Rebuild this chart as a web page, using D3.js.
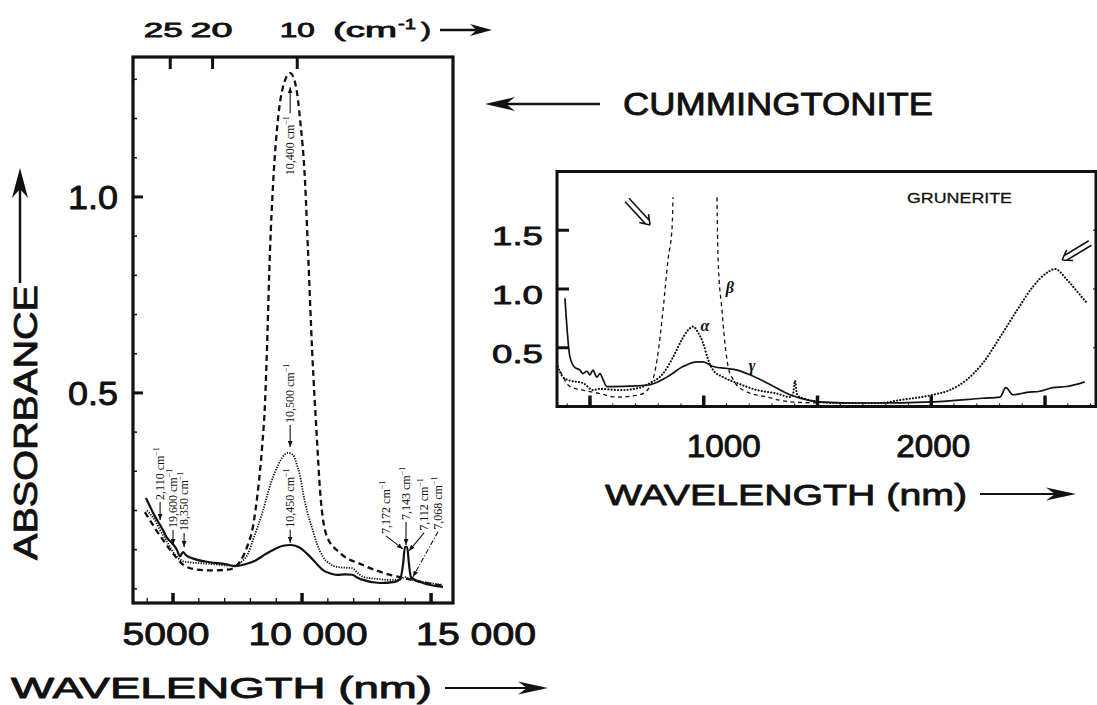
<!DOCTYPE html>
<html>
<head>
<meta charset="utf-8">
<script src="https://cdn.jsdelivr.net/npm/d3@7/dist/d3.min.js"></script>
<style>
  html, body { margin: 0; padding: 0; background: #fff; }
  svg { display: block; }
</style>
</head>
<body>
<svg id="chart" width="1097" height="705"></svg>
<script>
// ---------- data ----------
// Cummingtonite, three polarised spectra: [wavelength, absorbance]
const cumDashed = [[3910,0.196],[4300,0.155],[4610,0.125],[5000,0.09],[5390,0.062],[5850,0.05],[6430,0.047],[7210,0.05],[7600,0.07],[7870,0.107],[8100,0.16],[8290,0.25],[8450,0.36],[8570,0.48],[8640,0.61],[8760,0.865],[8880,1.035],[9070,1.2],[9260,1.28],[9540,1.316],[9770,1.28],[9920,1.2],[10120,1.035],[10230,0.865],[10390,0.61],[10580,0.38],[10700,0.25],[10970,0.133],[11470,0.092],[12360,0.061],[13410,0.036],[13800,0.03],[14570,0.018],[15470,0.008]];
const cumDotted = [[3990,0.2],[4300,0.175],[4500,0.15],[4770,0.12],[5080,0.087],[5270,0.075],[5470,0.069],[6430,0.064],[7330,0.059],[7670,0.07],[7910,0.09],[8100,0.125],[8290,0.16],[8490,0.2],[8680,0.245],[8880,0.286],[9070,0.315],[9220,0.334],[9460,0.347],[9650,0.342],[9810,0.315],[9920,0.29],[10040,0.245],[10190,0.2],[10390,0.155],[10580,0.115],[10810,0.082],[11080,0.064],[11360,0.056],[11670,0.054],[11940,0.053],[12170,0.04],[12360,0.031],[12830,0.026],[13410,0.023],[13800,0.024],[13990,0.03],[14180,0.025],[14690,0.018],[15460,0.01]];
const cumSolid = [[3950,0.232],[4110,0.21],[4300,0.185],[4500,0.163],[4610,0.15],[4770,0.13],[4960,0.117],[5150,0.1],[5270,0.083],[5390,0.094],[5500,0.086],[5850,0.076],[6430,0.068],[7020,0.063],[7400,0.058],[7790,0.063],[8180,0.072],[8570,0.088],[8950,0.102],[9260,0.11],[9570,0.112],[9920,0.105],[10190,0.09],[10430,0.074],[10620,0.06],[10810,0.048],[11080,0.04],[11360,0.036],[11670,0.037],[11940,0.036],[12170,0.028],[12360,0.023],[13020,0.015],[13600,0.018],[13800,0.025],[13910,0.06],[13990,0.107],[14070,0.107],[14150,0.06],[14220,0.03],[14690,0.015],[15460,0.005]];

// Grunerite inset: [wavelength (nm), absorbance]; null = β runs off scale
const gruBeta = [[369,0.3],[412,0.17],[469,0.14],[544,0.11],[618,0.08],[719,0.1],[764,0.17],[795,0.4],[821,0.82],[843,1.25],[861,1.53],[865,1.78],[960,null],[1058,1.78],[1063,1.25],[1080,0.82],[1093,0.54],[1107,0.34],[1129,0.23],[1173,0.14],[1278,0.08],[1379,0.04],[1511,0.03]];
const gruAlpha = [[359,0.34],[381,0.25],[412,0.22],[469,0.2],[513,0.14],[544,0.15],[632,0.14],[720,0.16],[764,0.2],[821,0.28],[865,0.42],[904,0.57],[931,0.65],[953,0.68],[975,0.63],[997,0.54],[1019,0.4],[1041,0.31],[1085,0.25],[1146,0.2],[1234,0.14],[1322,0.11],[1379,0.08],[1392,0.1],[1401,0.22],[1410,0.1],[1436,0.07],[1568,0.03],[1775,0.03],[1863,0.055],[2008,0.1],[2082,0.14],[2157,0.23],[2227,0.37],[2302,0.59],[2377,0.82],[2447,1.02],[2509,1.14],[2544,1.17],[2596,1.08],[2645,0.97],[2680,0.89]];
const gruGamma = [[390,0.92],[412,0.42],[434,0.33],[456,0.31],[469,0.28],[486,0.3],[500,0.27],[513,0.31],[530,0.25],[544,0.28],[557,0.23],[574,0.17],[600,0.17],[700,0.175],[764,0.185],[838,0.25],[909,0.34],[971,0.38],[997,0.38],[1041,0.34],[1115,0.32],[1146,0.31],[1203,0.27],[1278,0.2],[1379,0.1],[1467,0.05],[1498,0.04],[1718,0.03],[2008,0.04],[2227,0.07],[2302,0.08],[2328,0.16],[2359,0.1],[2420,0.12],[2477,0.13],[2534,0.16],[2596,0.17],[2675,0.21]];

// axis ticks and labels
const cumWaveTicks = [5000, 10000, 15000];
const cumWaveTickLabels = ["5000", "10 000", "15 000"];
const cumWaveMinor = d3.range(4000, 15001, 1000);
const cumAbsTicks = [0.5, 1.0];
const cumAbsTickLabels = ["0.5", "1.0"];
const cumAbsMinor = d3.range(0, 1.31, 0.1);
const wavenumberTicks = [25, 20, 10];
const wavenumberLabels = ["25", "20", "10"];
const gruWaveTicks = [500, 1000, 1500, 2000, 2500];
const gruWaveLabelValues = [1000, 2000];
const gruWaveLabels = ["1000", "2000"];
const gruWaveMinor = d3.range(400, 2701, 100);
const gruAbsTicks = [0.5, 1.0, 1.5];
const gruAbsTickLabels = ["0.5", "1.0", "1.5"];

// band assignments (cm-1) with the point each arrow marks
const cumNotes = [
  {label: "10,400", wl: 9540,  abs: 1.28,  dx: 0,   dy: 26, up: true},
  {label: "10,500", wl: 9540,  abs: 0.362, dx: 0,   dy: -22},
  {label: "10,450", wl: 9540,  abs: 0.118, dx: 0,   dy: -13},
  {label: "2,110",  wl: 4500,  abs: 0.176, dx: 0,   dy: -18},
  {label: "19,600", wl: 5000,  abs: 0.112, dx: 0,   dy: -15},
  {label: "18,350", wl: 5430,  abs: 0.107, dx: 0,   dy: -14},
  {label: "7,172",  wl: 13910, abs: 0.102, dx: -17, dy: -13},
  {label: "7,143",  wl: 14030, abs: 0.112, dx: 0,   dy: -23},
  {label: "7,112",  wl: 14145, abs: 0.097, dx: 15,  dy: -18},
  {label: "7,068",  wl: 14300, abs: 0.031, dx: 25,  dy: -45, dashDot: true}
];
const gruGreek = [
  {label: "\u03b1", wl: 1005, abs: 0.69},
  {label: "\u03b2", wl: 1115, abs: 1.01},
  {label: "\u03b3", wl: 1212, abs: 0.35}
];

// ---------- drawing ----------
const svg = d3.select("#chart");
const sans = "'Liberation Sans', Arial, Helvetica, sans-serif";
const serif = "'Liberation Serif', 'Times New Roman', serif";
const ink = "#111";

const defs = svg.append("defs");
defs.append("marker").attr("id", "tip")
  .attr("viewBox", "0 0 10 8").attr("refX", 10).attr("refY", 4)
  .attr("markerWidth", 6).attr("markerHeight", 5).attr("markerUnits", "userSpaceOnUse")
  .attr("orient", "auto")
  .append("path").attr("d", "M0,0L10,4L0,8Z").attr("fill", ink);

// text helper: widths are fixed with textLength, heavier strokes with an outline
function txt(g, s, x, y, o) {
  const t = g.append("text")
    .attr("transform", `translate(${x},${y})` + (o.rot ? ` rotate(${o.rot})` : ""))
    .attr("font-family", o.family || sans)
    .attr("font-size", o.size)
    .attr("font-weight", o.weight || "normal")
    .attr("font-style", o.style || "normal")
    .attr("text-anchor", o.anchor || "start")
    .attr("fill", ink)
    .text(s);
  if (o.len) t.attr("textLength", o.len).attr("lengthAdjust", "spacingAndGlyphs");
  if (o.baseline) t.attr("dominant-baseline", o.baseline);
  if (o.heavy) t.attr("stroke", ink).attr("stroke-width", o.heavy).attr("stroke-linejoin", "round");
  return t;
}

// filled, swept-back arrow from (xa,ya) to tip (xb,yb)
function bigArrow(g, xa, ya, xb, yb, head, half, w) {
  const a = Math.atan2(yb - ya, xb - xa), c = Math.cos(a), s = Math.sin(a);
  const bx = xb - head * c, by = yb - head * s;
  g.append("line").attr("x1", xa).attr("y1", ya).attr("x2", bx + head * 0.3 * c).attr("y2", by + head * 0.3 * s)
    .attr("stroke", ink).attr("stroke-width", w);
  const px = -s * half, py = c * half;
  g.append("path")
    .attr("d", `M${xb},${yb}L${bx + px},${by + py}L${bx + head * 0.3 * c},${by + head * 0.3 * s}L${bx - px},${by - py}Z`)
    .attr("fill", ink);
}

// open double-shafted arrow pointing to (xb,yb)
function doubleArrow(g, xa, ya, xb, yb) {
  const a = Math.atan2(yb - ya, xb - xa), c = Math.cos(a), s = Math.sin(a);
  const px = -s * 2.6, py = c * 2.6;
  const path = d3.path();
  [1, -1].forEach(k => {
    path.moveTo(xa + k * px, ya + k * py);
    path.lineTo(xb - 4 * c + k * px, yb - 4 * s + k * py);
  });
  [0.6, -0.6].forEach(t => {
    path.moveTo(xb, yb);
    path.lineTo(xb - 11 * Math.cos(a + t), yb - 11 * Math.sin(a + t));
  });
  g.append("path").attr("d", path.toString()).attr("fill", "none").attr("stroke", ink).attr("stroke-width", 1.6);
}

// ===== Cummingtonite panel =====
const L = {x0: 133, x1: 453, y0: 57, y1: 603};
const x1 = d3.scaleLinear().domain([3450, 15850]).range([L.x0, L.x1]);
const y1 = d3.scaleLinear().domain([-0.036, 1.357]).range([L.y1, L.y0]);
const kx = d3.scaleLinear().domain([29.4, -8.4]).range([L.x0, L.x1]);

const gL = svg.append("g");
defs.append("clipPath").attr("id", "clipL").append("rect")
  .attr("x", L.x0).attr("y", L.y0).attr("width", L.x1 - L.x0).attr("height", L.y1 - L.y0);

const lineL = d3.line().x(d => x1(d[0])).y(d => y1(d[1])).curve(d3.curveMonotoneX);
const curvesL = gL.append("g").attr("clip-path", "url(#clipL)").attr("fill", "none").attr("stroke", ink)
  .attr("stroke-linejoin", "round");
curvesL.append("path").datum(cumDashed).attr("d", lineL).attr("stroke-width", 2.3).attr("stroke-dasharray", "6,4");
curvesL.append("path").datum(cumDotted).attr("d", lineL).attr("stroke-width", 1.8).attr("stroke-dasharray", "1.3,1.3");
curvesL.append("path").datum(cumSolid).attr("d", lineL).attr("stroke-width", 2.2);

// frame
gL.append("rect").attr("x", L.x0).attr("y", L.y0).attr("width", L.x1 - L.x0).attr("height", L.y1 - L.y0)
  .attr("fill", "none").attr("stroke", ink).attr("stroke-width", 3.2);

// left ticks (inward)
cumAbsMinor.forEach(v => {
  const major = cumAbsTicks.some(t => Math.abs(t - v) < 1e-6);
  gL.append("line").attr("x1", L.x0).attr("x2", L.x0 + (major ? 10 : 4))
    .attr("y1", y1(v)).attr("y2", y1(v)).attr("stroke", ink).attr("stroke-width", major ? 3 : 1.5);
});
cumAbsTicks.forEach((v, i) => {
  txt(gL, cumAbsTickLabels[i], 118, y1(v) + 12.5, {size: 34, anchor: "end", len: 50, heavy: 0.9});
});

// bottom ticks
cumWaveMinor.forEach(v => {
  const major = cumWaveTicks.includes(v);
  gL.append("line").attr("x1", x1(v)).attr("x2", x1(v))
    .attr("y1", L.y1).attr("y2", L.y1 - (major ? 10 : 5))
    .attr("stroke", ink).attr("stroke-width", major ? 3.5 : 1.3);
});
const bottomShift = [-7, 6, 45];
const bottomLen = [87, 119, 120];
cumWaveTicks.forEach((v, i) => {
  txt(gL, cumWaveTickLabels[i], x1(v) + bottomShift[i], 645, {size: 32, anchor: "middle", len: bottomLen[i], heavy: 0.9});
});

// top wavenumber ticks
wavenumberTicks.forEach(k => {
  gL.append("line").attr("x1", kx(k)).attr("x2", kx(k)).attr("y1", L.y0).attr("y2", L.y0 + 12)
    .attr("stroke", ink).attr("stroke-width", 3);
});
const topShift = [-7, -1, 0];
const topLen = [39, 42, 35];
wavenumberTicks.forEach((k, i) => {
  txt(gL, wavenumberLabels[i], kx(k) + topShift[i], 37, {size: 20, anchor: "middle", len: topLen[i], heavy: 0.8});
});
txt(gL, "(cm", 333, 37, {size: 20, len: 64, heavy: 0.8});
txt(gL, "-1", 398, 29, {size: 15, len: 18, heavy: 0.8});
txt(gL, ")", 421, 37, {size: 20, len: 10, heavy: 0.8});
bigArrow(gL, 440, 30, 492, 30, 22, 6, 2.5);

// axis titles
txt(gL, "WAVELENGTH (nm)", 11, 698, {size: 30, len: 421, heavy: 0.9});
bigArrow(gL, 445, 688, 548, 688, 30, 6.5, 2.2);
txt(gL, "ABSORBANCE", 37, 560, {size: 33, rot: -90, len: 275, heavy: 0.9});
bigArrow(gL, 20, 283, 20, 168, 30, 8, 2.5);

// band assignments
cumNotes.forEach(n => {
  const tx = x1(n.wl), ty = y1(n.abs);
  const bx = tx + n.dx, by = ty + n.dy;
  const ln = gL.append("line").attr("x1", bx).attr("y1", by).attr("x2", tx).attr("y2", ty)
    .attr("stroke", ink).attr("stroke-width", 1.1).attr("marker-end", "url(#tip)");
  if (n.dashDot) ln.attr("stroke-dasharray", "5,2,1,2");
  const t = gL.append("text")
    .attr("font-family", serif).attr("font-size", 12).attr("fill", ink)
    .attr("transform", n.up ? `translate(${bx + 4},${by + 3}) rotate(-90)` : `translate(${bx + 4},${by - 2}) rotate(-90)`)
    .attr("text-anchor", n.up ? "end" : "start");
  t.append("tspan").text(n.label + " cm");
  t.append("tspan").attr("font-size", 8).attr("dy", -5).text("\u22121");
});

// ===== Grunerite inset =====
const R = {x0: 557, x1: 1096, y0: 171.5, y1: 406.5};
const x2 = d3.scaleLinear().domain([355, 2724]).range([R.x0, R.x1]);
const y2 = d3.scaleLinear().domain([0, 2]).range([R.y1, R.y0]);

const gR = svg.append("g");
defs.append("clipPath").attr("id", "clipR").append("rect")
  .attr("x", R.x0).attr("y", R.y0).attr("width", R.x1 - R.x0).attr("height", R.y1 - R.y0);
const lineR = d3.line().defined(d => d[1] != null).x(d => x2(d[0])).y(d => y2(d[1])).curve(d3.curveMonotoneX);
const curvesR = gR.append("g").attr("clip-path", "url(#clipR)").attr("fill", "none").attr("stroke", ink)
  .attr("stroke-linejoin", "round");
curvesR.append("path").datum(gruBeta).attr("d", lineR).attr("stroke-width", 1.3).attr("stroke-dasharray", "4,3.5");
curvesR.append("path").datum(gruAlpha).attr("d", lineR).attr("stroke-width", 2.1).attr("stroke-linecap", "round")
  .attr("stroke-dasharray", "0.1,3.1");
curvesR.append("path").datum(gruGamma).attr("d", lineR).attr("stroke-width", 1.7);

gR.append("rect").attr("x", R.x0).attr("y", R.y0).attr("width", R.x1 - R.x0).attr("height", R.y1 - R.y0)
  .attr("fill", "none").attr("stroke", ink).attr("stroke-width", 3);

gruAbsTicks.forEach((v, i) => {
  gR.append("line").attr("x1", R.x0).attr("x2", R.x0 + 12).attr("y1", y2(v)).attr("y2", y2(v))
    .attr("stroke", ink).attr("stroke-width", 3);
  gR.append("line").attr("x1", R.x1).attr("x2", R.x1 - 3).attr("y1", y2(v)).attr("y2", y2(v))
    .attr("stroke", ink).attr("stroke-width", 1.2);
  txt(gR, gruAbsTickLabels[i], 543, y2(v) + 15, {size: 26, anchor: "end", len: 51, heavy: 0.8});
});
gruWaveMinor.forEach(v => {
  const major = gruWaveTicks.includes(v);
  gR.append("line").attr("x1", x2(v)).attr("x2", x2(v)).attr("y1", R.y1).attr("y2", R.y1 - (major ? 11 : 3))
    .attr("stroke", ink).attr("stroke-width", major ? 3.5 : 1.1);
});
const gruLabelShift = [20, 2];
gruWaveLabelValues.forEach((v, i) => {
  txt(gR, gruWaveLabels[i], x2(v) + gruLabelShift[i], 457, {size: 32, anchor: "middle", len: 74, heavy: 0.9});
});
txt(gR, "WAVELENGTH (nm)", 605, 505, {size: 29, len: 362, heavy: 0.8});
bigArrow(gR, 980, 494, 1076, 494, 30, 6.5, 2.2);

txt(gR, "GRUNERITE", 907, 203, {size: 15, len: 105, heavy: 0.3});
gruGreek.forEach(d => {
  txt(gR, d.label, x2(d.wl), y2(d.abs), {size: 16, family: serif, style: "italic", weight: "bold", anchor: "middle", baseline: "central"});
});
doubleArrow(gR, x2(764) - 23, y2(1.545) - 25, x2(764), y2(1.545));
doubleArrow(gR, x2(2575) + 28, y2(1.247) - 17, x2(2575), y2(1.247));

// title of the main panel
txt(svg, "CUMMINGTONITE", 623, 115, {size: 32, len: 310, heavy: 0.9});
bigArrow(svg, 600, 104, 485, 104, 30, 7, 2.4);
</script>
</body>
</html>
